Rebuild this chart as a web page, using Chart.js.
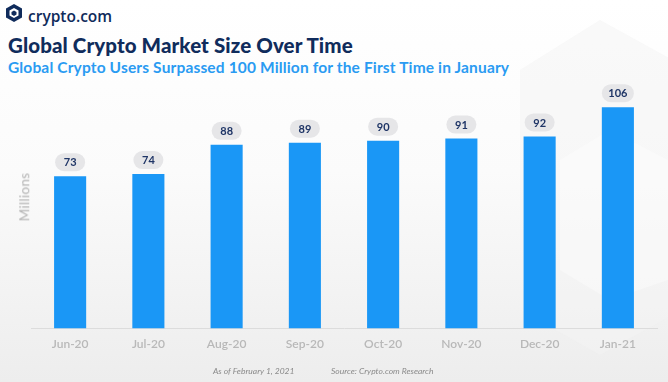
<!DOCTYPE html>
<html><head><meta charset="utf-8">
<script src="https://cdn.jsdelivr.net/npm/chart.js@4/dist/chart.umd.min.js"></script>
<style>
html,body{margin:0;padding:0;}
body{width:668px;height:382px;position:relative;overflow:hidden;
 background:linear-gradient(to bottom,#ffffff 0%,#fbfbfb 45%,#ededed 100%);font-family:Lato,"Open Sans",sans-serif;}
#wm{position:absolute;left:0;top:0;}
#c{position:absolute;left:0;top:0;}
.t{position:absolute;white-space:nowrap;}
#logo{left:28px;top:5px;font-size:15.5px;color:#0f2b5b;font-weight:600;font-family:"Open Sans",sans-serif;}
#title{left:8px;top:33px;font-size:20.5px;font-weight:900;color:#102c5c;letter-spacing:0.1px;}
#sub{left:8px;top:58px;font-size:15.5px;font-weight:700;color:#2a9bf2;letter-spacing:0.15px;}
.foot{top:366px;font-size:8.5px;font-style:italic;color:#8a8a8a;}
#ytitle{left:25px;top:197px;font-size:13.5px;font-weight:400;color:#b3b3b3;transform:translate(-50%,-50%) rotate(-90deg);line-height:1;letter-spacing:0.3px;}
</style></head><body>
<svg id="wm" width="668" height="382">
 <polygon points="600,20 700,75 700,300 600,355 520,310 520,70" fill="#f3f3f3" opacity="0.5"/>
 <polygon points="610,130 668,160 668,280 610,300 560,270 560,160" fill="#ffffff" opacity="0.35"/>
 <g transform="translate(6,4)">
  <polygon points="8,0 16,4.5 16,13.5 8,18 0,13.5 0,4.5" fill="#0f2b5b"/>
  <polygon points="8,4 12.5,6.5 12.5,11.5 8,14 3.5,11.5 3.5,6.5" fill="#ffffff"/>
  <polygon points="8,6.5 10.5,8 10.5,10.5 8,12 5.5,10.5 5.5,8" fill="#0f2b5b"/>
 </g>
</svg>
<div class="t" id="logo">crypto.com</div>
<div class="t" id="title">Global Crypto Market Size Over Time</div>
<div class="t" id="sub">Global Crypto Users Surpassed 100 Million for the First Time in January</div>
<canvas id="c" width="668" height="382"></canvas>
<div class="t" id="ytitle"></div>
<div class="t foot" style="left:213px;">As of February 1, 2021</div>
<div class="t foot" style="left:331px;">Source: Crypto.com Research</div>
<script>
const categories = ["Jun-20","Jul-20","Aug-20","Sep-20","Oct-20","Nov-20","Dec-20","Jan-21"];
const users = [73, 74, 88, 89, 90, 91, 92, 106];
const yAxisTitle = "Millions";
document.getElementById('ytitle').textContent = yAxisTitle;

const pillPlugin = {
  id: 'pills',
  afterDatasetsDraw(chart){
    const ctx = chart.ctx;
    const meta = chart.getDatasetMeta(0);
    ctx.save();
    ctx.font = "bold 11px Lato, 'Open Sans', sans-serif";
    ctx.textAlign = 'center';
    ctx.textBaseline = 'middle';
    meta.data.forEach((bar, i) => {
      const txt = String(chart.data.datasets[0].data[i]);
      const w = txt.length > 2 ? 32 : 30, h = 18;
      const cx = bar.x, cy = bar.y - 14;
      ctx.fillStyle = '#e6e6e8';
      ctx.beginPath();
      ctx.roundRect(cx - w/2, cy - h/2, w, h, 9);
      ctx.fill();
      ctx.fillStyle = '#1f3566';
      ctx.fillText(txt, cx, cy + 0.5);
    });
    ctx.restore();
  }
};

new Chart(document.getElementById('c'), {
  type: 'bar',
  data: {
    labels: categories,
    datasets: [{
      data: users,
      backgroundColor: '#1a97f6',
      barPercentage: 0.82,
      categoryPercentage: 0.5
    }]
  },
  options: {
    responsive: false,
    animation: false,
    layout: { padding: { left: 31, right: 11, top: 78, bottom: 31 } },
    plugins: { legend: { display: false }, tooltip: { enabled: false } },
    scales: {
      x: {
        grid: { display: false },
        border: { display: true, color: '#dcdcdc', width: 1 },
        ticks: { color: '#b8b8b8', padding: 0, font: { size: 12, family: "Lato, 'Open Sans', sans-serif", weight: '600' } }
      },
      y: {
        display: false,
        min: 0, max: 120
      }
    }
  },
  plugins: [pillPlugin]
});
</script>
</body></html>
